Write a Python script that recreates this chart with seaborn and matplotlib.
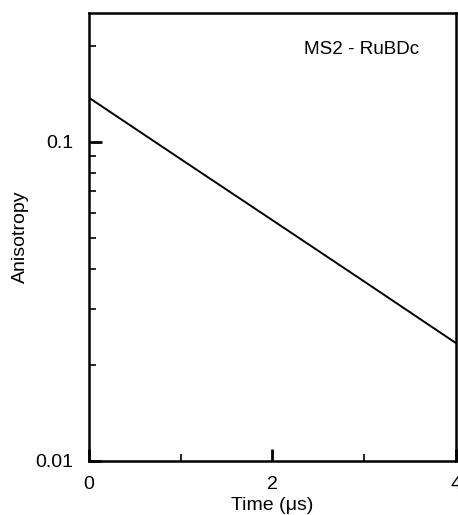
import matplotlib
matplotlib.use("Agg")
import matplotlib.pyplot as plt
import seaborn as sns
import pandas as pd
from matplotlib.ticker import FixedLocator, LogLocator, NullFormatter, FuncFormatter

# data
time_us = [0, 1, 2, 3, 4]
anisotropy = [0.1375, 0.0883, 0.0568, 0.0365, 0.0234]
sample_label = "MS2 - RuBDc"

df = pd.DataFrame({"time": time_us, "r": anisotropy})

sns.set_style("ticks")
plt.rcParams["font.family"] = ["Liberation Sans", "DejaVu Sans"]
plt.rcParams["text.color"] = "black"
plt.rcParams["axes.labelcolor"] = "black"
plt.rcParams["xtick.color"] = "black"
plt.rcParams["ytick.color"] = "black"

fig = plt.figure(figsize=(4.58, 5.15), dpi=100)
ax = fig.add_axes([0.194, 0.105, 0.8016, 0.870])

sns.lineplot(data=df, x="time", y="r", color="black", linewidth=1.4, ax=ax)

ax.set_yscale("log")
ax.set_xlim(0, 4)
ax.set_ylim(0.01, 0.2535)

ax.xaxis.set_major_locator(FixedLocator([0, 2, 4]))
ax.xaxis.set_minor_locator(FixedLocator([1, 3]))
ax.yaxis.set_major_locator(FixedLocator([0.01, 0.1]))
ax.yaxis.set_minor_locator(LogLocator(base=10, subs=range(2, 10)))
ax.yaxis.set_major_formatter(FuncFormatter(lambda v, p: f"{v:g}"))
ax.yaxis.set_minor_formatter(NullFormatter())

ax.tick_params(which="both", direction="in", labelsize=14)
ax.tick_params(axis="y", pad=11)
ax.tick_params(axis="x", pad=11)
ax.tick_params(which="major", length=9, width=2)
ax.tick_params(which="minor", length=5, width=1.2)

for s in ax.spines.values():
    s.set_linewidth(1.8)
    s.set_color("black")

ax.set_xlabel("Time (\u03bcs)", fontsize=14, labelpad=3)
ax.set_ylabel("Anisotropy", fontsize=14, labelpad=5)

ax.text(0.585, 0.919, sample_label, transform=ax.transAxes, fontsize=13.6,
        ha="left", va="center")

fig.savefig("out.png", dpi=100)
